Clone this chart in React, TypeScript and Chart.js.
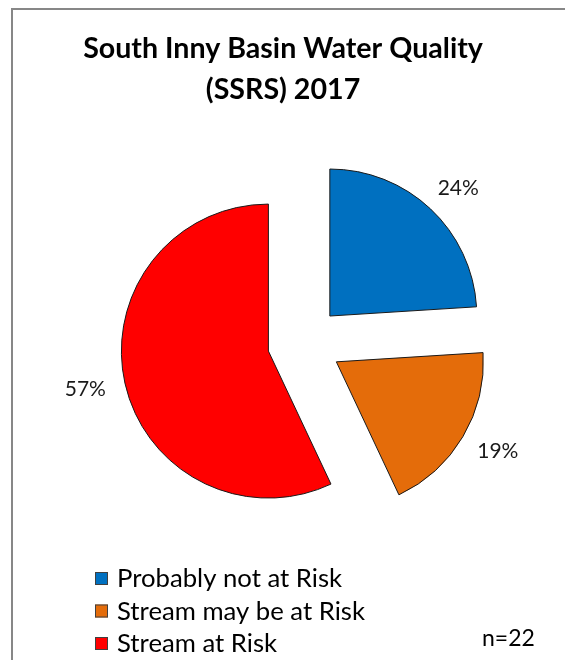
import React, { useEffect, useRef } from "react";
import { Chart, registerables } from "chart.js";

Chart.register(...registerables);

// Risk categories and their share of the 22 assessed streams (%)
const categories = ["Probably not at Risk", "Stream may be at Risk", "Stream at Risk"];
const shares = [24, 19, 57];
const sliceColors = ["#0070C0", "#E46C0A", "#FF0000"];
const titleLines = ["South Inny Basin Water Quality", "(SSRS) 2017"];
const sampleNote = "n=22";

const FONT = "Lato, 'Open Sans', sans-serif";

// Pushes every slice out from the centre along its own mid-angle,
// without changing its radius.
const explodePlugin = {
  id: "explodeSlices",
  afterDatasetUpdate(chart: any, args: any, opts: any) {
    const d = opts.distance || 0;
    for (const el of args.meta.data) {
      const mid = (el.startAngle + el.endAngle) / 2;
      el.x += Math.cos(mid) * d;
      el.y += Math.sin(mid) * d;
    }
  },
};

// Outer frame of the chart
const framePlugin = {
  id: "chartFrame",
  beforeDraw(chart: any) {
    const ctx = chart.ctx;
    ctx.save();
    ctx.fillStyle = "#ffffff";
    ctx.fillRect(0, 0, chart.width, chart.height);
    ctx.strokeStyle = "#878787";
    ctx.lineWidth = 2;
    ctx.strokeRect(12, 9, chart.width + 40, chart.height + 40);
    ctx.restore();
  },
};

// Percentage labels at the outside end of each slice: the label box sits
// just beyond the arc, pushed outwards by half its own size.
const sliceLabelPlugin = {
  id: "sliceLabels",
  afterDatasetsDraw(chart: any) {
    const ctx = chart.ctx;
    const meta = chart.getDatasetMeta(0);
    const size = 21;
    ctx.save();
    ctx.font = `${size}px ${FONT}`;
    ctx.fillStyle = "#1a1a1a";
    ctx.textAlign = "center";
    ctx.textBaseline = "middle";
    meta.data.forEach((el: any, i: number) => {
      const text = `${shares[i]}%`;
      const w = ctx.measureText(text).width;
      const h = size * 0.75;
      const mid = (el.startAngle + el.endAngle) / 2;
      const cx = Math.cos(mid);
      const cy = Math.sin(mid);
      const r = el.outerRadius + 20;
      ctx.fillText(text, el.x + cx * r + cx * w / 2, el.y + cy * r + cy * h / 2);
    });
    ctx.restore();
  },
};

// Title, vertical legend and sample size note
const annotationPlugin = {
  id: "annotations",
  afterDraw(chart: any) {
    const ctx = chart.ctx;
    ctx.save();
    ctx.fillStyle = "#000000";
    ctx.textAlign = "center";
    ctx.textBaseline = "alphabetic";
    ctx.font = `bold 28.6px ${FONT}`;
    ctx.fillText(titleLines[0], 283, 58);
    ctx.fillText(titleLines[1], 283, 99);

    ctx.textAlign = "left";
    ctx.font = `25.7px ${FONT}`;
    categories.forEach((label, i) => {
      const base = 587 + i * 32.5;
      ctx.fillStyle = sliceColors[i];
      ctx.fillRect(95, base - 15, 13, 13);
      ctx.strokeStyle = "#404040";
      ctx.lineWidth = 1;
      ctx.strokeRect(95.5, base - 14.5, 12, 12);
      ctx.fillStyle = "#000000";
      ctx.fillText(label, 117, base);
    });

    ctx.font = `23px ${FONT}`;
    ctx.fillText(sampleNote, 482, 646);
    ctx.restore();
  },
};

export default function App() {
  const canvasRef = useRef<HTMLCanvasElement | null>(null);

  useEffect(() => {
    if (!canvasRef.current) return;
    const chart = new Chart(canvasRef.current, {
      type: "pie",
      data: {
        labels: categories,
        datasets: [
          {
            data: shares,
            backgroundColor: sliceColors,
            borderColor: "#1a1a1a",
            borderWidth: 1,
          },
        ],
      },
      options: {
        responsive: false,
        animation: false,
        radius: 147,
        layout: { padding: { left: 44, right: 0, top: 90, bottom: 64 } },
        plugins: {
          legend: { display: false },
          tooltip: { enabled: false },
          title: { display: false },
          explodeSlices: { distance: 37 },
        } as any,
      },
      plugins: [framePlugin, explodePlugin, sliceLabelPlugin, annotationPlugin],
    });
    return () => chart.destroy();
  }, []);

  return (
    <div style={{ position: "absolute", left: 0, top: 0, width: 565, height: 660, background: "#fff" }}>
      <canvas ref={canvasRef} width={565} height={660} style={{ display: "block" }} />
    </div>
  );
}
